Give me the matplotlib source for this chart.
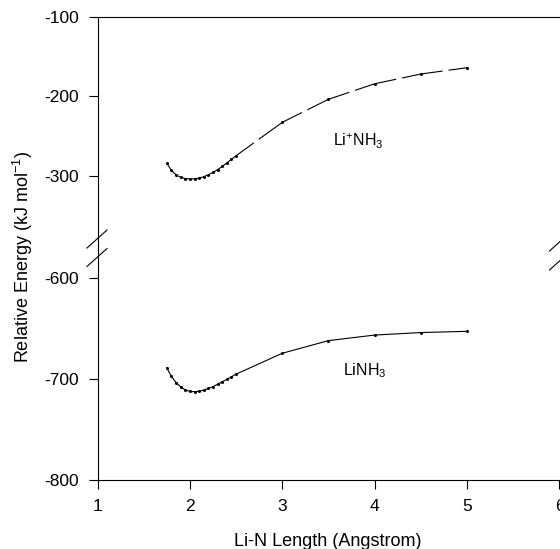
import numpy as np
import matplotlib
matplotlib.use("Agg")
import matplotlib.pyplot as plt
from matplotlib.collections import LineCollection
from matplotlib.lines import Line2D

plt.rcParams['font.family'] = ['Liberation Sans', 'DejaVu Sans']
plt.rcParams['lines.scale_dashes'] = False
plt.rcParams['axes.unicode_minus'] = False

# Li-N distance (Angstrom)
r = [1.75, 1.80, 1.85, 1.90, 1.95, 2.00, 2.05, 2.10, 2.15, 2.20, 2.25,
     2.30, 2.35, 2.40, 2.45, 2.50, 3.0, 3.5, 4.0, 4.5, 5.0]

# relative energies (kJ/mol)
e_cation = [-284.0, -293.0, -298.5, -301.7, -303.2, -303.8, -303.6, -302.6,
            -300.9, -298.5, -295.5, -292.0, -288.0, -283.5, -279.0, -274.5,
            -232.5, -203.5, -184.0, -171.7, -163.8]
e_neutral = [-689.0, -697.5, -703.5, -707.8, -710.8, -712.3, -712.6, -712.2,
             -711.0, -709.4, -707.5, -705.2, -702.8, -700.3, -697.8, -695.2,
             -674.5, -662.0, -656.5, -654.0, -652.8]

top_ticks = [-100, -200, -300]
bot_ticks = [-600, -700, -800]
x_ticks = [1, 2, 3, 4, 5, 6]

W, H = 560, 549
def fx(p):
    return p / W
def fy(p):
    return 1 - p / H

fig = plt.figure(figsize=(W / 100, H / 100), dpi=100)
x0, x1 = 97.5, 559.5
ax_top = fig.add_axes([fx(x0), fy(248), (x1 - x0) / W, (248 - 17) / H])
ax_bot = fig.add_axes([fx(x0), fy(480), (x1 - x0) / W, (480 - 248) / H])

for ax in (ax_top, ax_bot):
    ax.set_xlim(1, 6)
    ax.spines['right'].set_visible(False)
    for s in ax.spines.values():
        s.set_linewidth(0.8)
    ax.tick_params(direction='out', length=6.5, width=0.8, pad=7,
                   labelsize=12.5, color='black')

ax_top.set_ylim(-390.6, -100)
ax_top.spines['bottom'].set_visible(False)
ax_top.set_yticks(top_ticks)
ax_top.set_xticks([])

ax_bot.set_ylim(-800, -570.3)
ax_bot.spines['top'].set_visible(False)
ax_bot.set_yticks(bot_ticks)
ax_bot.set_xticks(x_ticks)

# Li+ NH3: each segment dashed on its own so short segments stay solid
pts = np.column_stack([r, e_cation])
segs = np.stack([pts[:-1], pts[1:]], axis=1)
lc = LineCollection(segs, colors='black', linewidths=0.8,
                    linestyles=[(0, (15.8, 4.3, 28.8, 4.3))])
ax_top.add_collection(lc)
ax_top.plot(r, e_cation, ls='none', marker='o', ms=1.2, color='black')

ax_bot.plot(r, e_neutral, color='black', lw=0.8, marker='o', ms=1.2)

ax_top.text(3.55, -256, r'$\mathregular{Li^{+}NH_{3}}$', fontsize=11.5,
            ha='left', va='center')
ax_bot.text(3.66, -692, r'$\mathregular{LiNH_{3}}$', fontsize=11.5,
            ha='left', va='center')

# axis break marks
for cx, cy in [(97, 239), (97, 257.5), (559.5, 242), (559.5, 261)]:
    fig.add_artist(Line2D([fx(cx - 10), fx(cx + 10)], [fy(cy + 9), fy(cy - 9)],
                          color='black', lw=0.8, transform=fig.transFigure))

fig.text(fx(23), fy(257), r'Relative Energy (kJ mol$^{\mathregular{-1}}$)',
         rotation=90, ha='center', va='center', fontsize=13)
fig.text(fx(328), fy(541), 'Li-N Length (Angstrom)',
         ha='center', va='center', fontsize=13)

fig.savefig('out.png', dpi=100)
